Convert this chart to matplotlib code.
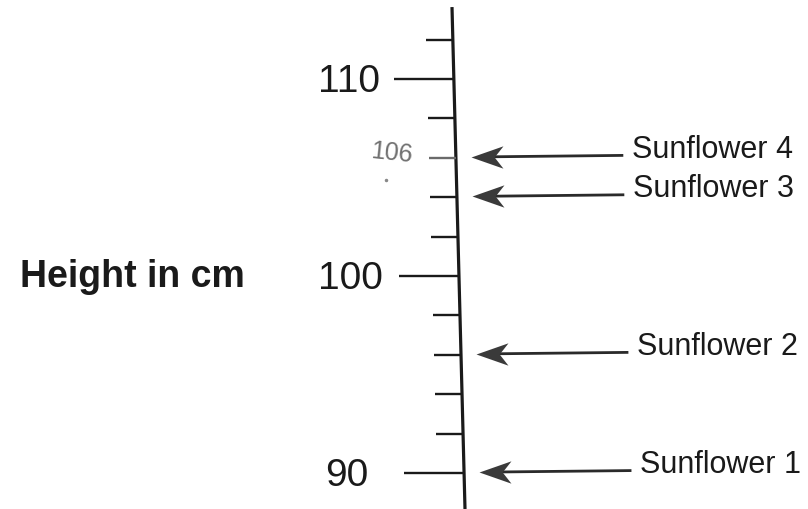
import numpy as np
import matplotlib.pyplot as plt
from matplotlib.path import Path

# donnees
tick_cm = [90, 92, 94, 96, 98, 100, 102, 104, 106, 108, 110, 112]
major_cm = [90, 100, 110]
heights = [90, 96, 104, 106]
names = ["Sunflower 1", "Sunflower 2", "Sunflower 3", "Sunflower 4"]
note_value = 106

plt.rcParams['font.family'] = ['Liberation Sans', 'DejaVu Sans']

fig = plt.figure(figsize=(8.08, 5.10), dpi=100)
ax = fig.add_axes([0, 0, 1, 1])
ax.set_xlim(0, 808)
ax.set_ylim(88.17, 114.06)
ax.axis('off')

# ligne principale un peu penchee (scan)
top, bottom = 113.65, 88.17
def line_x(cm):
    return 452 + (top - cm) * (465 - 452) / (top - bottom)

ax.plot([line_x(top), line_x(bottom)], [top, bottom], color='#1a1a1a', lw=2.3,
        solid_capstyle='butt')

# graduations
for v in tick_cm:
    x1 = line_x(v)
    if v in major_cm:
        x0 = x1 - 60
    else:
        x0 = x1 - 27
    col = '#6a6a6a' if v == note_value else '#1a1a1a'
    ax.plot([x0, x1], [v, v], color=col, lw=1.7, solid_capstyle='butt')

label_right = {110: 380, 100: 383, 90: 368}
for v in major_cm:
    ax.text(label_right[v], v - 0.1, str(v), ha='right', va='center', fontsize=28,
            color='#1a1a1a')

# note au crayon
ax.text(392, note_value + 0.3, str(note_value), ha='center',
        va='center', fontsize=18, color='#707070', rotation=-6)
ax.plot([386], [note_value - 1.15], 'o', ms=1.5, color='#888888')

ax.text(245, 100, "Height in cm", ha='right', va='center', fontsize=27,
        fontweight='bold', color='#1a1a1a')

# tete de fleche (forme "stealth")
head = Path([(-1, 0), (1, 0.7), (0.45, 0), (1, -0.7), (-1, 0)],
            [Path.MOVETO, Path.LINETO, Path.LINETO, Path.LINETO, Path.CLOSEPOLY])

# fleches
for h, n in zip(heights, names):
    xh = line_x(h) + 16
    xt = xh + 150
    ax.plot([xh + 20, xt], [h + 0.05, h + 0.12], color='#2a2a2a', lw=2.0)
    ax.plot([xh + 15], [h + 0.05], marker=head, ms=23, color='#3a3a3a', mew=0)
    ax.text(xt + 10, h + 0.45, n, ha='left', va='center', fontsize=22,
            color='#1a1a1a')

fig.savefig("out.png", dpi=100)
